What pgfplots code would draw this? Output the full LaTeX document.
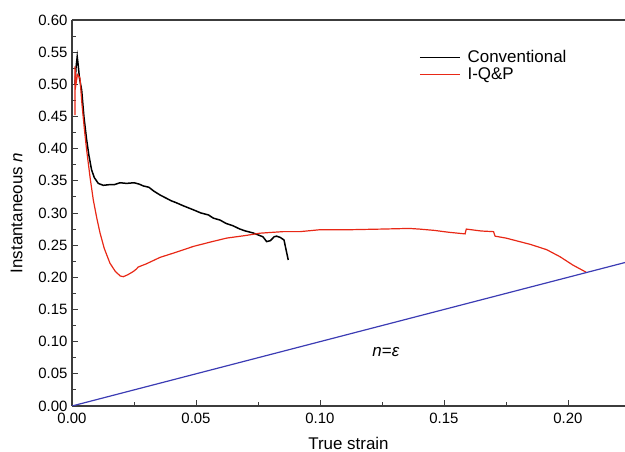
\documentclass[border=0pt]{standalone}
\usepackage{pgfplots}
\pgfplotsset{compat=1.18}
\usepackage{fontspec}
\setmainfont{Liberation Sans}
\definecolor{cred}{RGB}{232,40,22}
\definecolor{cblue}{RGB}{60,60,180}
\definecolor{axgray}{RGB}{60,60,60}
\begin{document}
\begin{tikzpicture}
\begin{axis}[
  name=ax,
  scale only axis,
  width=553bp, height=386bp,
  xmin=0, xmax=0.223, ymin=0, ymax=0.6,
  axis x line=box, axis y line=left,
  axis line style={line width=1.1bp, color=axgray, -},
  xtick={0,0.05,0.1,0.15,0.2},
  minor xtick={0.025,0.075,0.125,0.175},
  ytick={0,0.05,...,0.601},
  minor ytick={0.025,0.075,...,0.6},
  xtick pos=bottom, ytick pos=left,
  tick align=inside,
  major tick length=6bp, minor tick length=4bp,
  every tick/.style={line width=0.9bp, color=axgray},
  /pgf/number format/assume math mode=true,
  /pgf/number format/.cd, fixed, fixed zerofill, precision=2, /pgfplots/.cd,
  ticklabel style={font=\fontsize{15}{17}\selectfont},
  xticklabel style={yshift=-4bp},
  yticklabel style={xshift=-1bp},
  scaled ticks=false,
  xlabel={True strain},
  ylabel={Instantaneous \textit{n}},
  label style={font=\fontsize{17}{19}\selectfont},
  xlabel style={yshift=-6bp},
  ylabel style={yshift=9bp},
  legend style={at={(rel axis cs:0.622,0.932)}, anchor=north west, draw=none, fill=none,
    font=\fontsize{17}{19}\selectfont, row sep=0bp,
    /tikz/every odd column/.append style={column sep=5bp}},
  legend cell align=left,
  legend image code/.code={\draw[#1] (0bp,0bp) -- (40bp,0bp);},
]
\addplot[black, line width=1.5bp] coordinates {
(0.0012,0.50)(0.0016,0.525)(0.0021,0.543)(0.0025,0.53)(0.0030,0.51)(0.0039,0.491)
(0.0048,0.45)(0.0059,0.414)(0.0068,0.39)(0.0079,0.367)(0.0090,0.355)(0.0106,0.346)
(0.0126,0.343)(0.0150,0.344)(0.0170,0.344)(0.0194,0.347)(0.0220,0.346)(0.0250,0.347)
(0.0270,0.345)(0.0288,0.342)(0.0310,0.340)(0.0330,0.334)(0.0355,0.328)(0.0380,0.323)
(0.0400,0.319)(0.0420,0.316)(0.0450,0.311)(0.0489,0.305)(0.0520,0.300)(0.0550,0.297)
(0.0570,0.292)(0.0597,0.289)(0.0620,0.284)(0.0650,0.280)(0.0677,0.275)(0.0700,0.272)
(0.0730,0.269)(0.0750,0.266)(0.0770,0.263)(0.0785,0.2555)(0.0800,0.257)(0.0815,0.263)
(0.0825,0.264)(0.0840,0.262)(0.0855,0.258)(0.0862,0.245)(0.0872,0.227)
};
\addlegendentry{Conventional}
\addplot[cred, line width=1.2bp] coordinates {
(0.0012,0.452)(0.0012,0.528)(0.0016,0.50)(0.0022,0.515)(0.0032,0.510)(0.0040,0.47)
(0.0050,0.43)(0.0059,0.398)(0.0073,0.355)(0.0086,0.320)(0.0100,0.292)(0.0113,0.269)
(0.0130,0.245)(0.0153,0.222)(0.0175,0.209)(0.0195,0.202)(0.0207,0.201)(0.0225,0.204)
(0.0247,0.209)(0.0260,0.213)(0.0267,0.216)(0.0300,0.221)(0.0355,0.231)(0.0420,0.239)
(0.0489,0.248)(0.0560,0.255)(0.0624,0.261)(0.0700,0.265)(0.0758,0.2686)(0.0850,0.271)
(0.0919,0.271)(0.1000,0.274)(0.1120,0.274)(0.1250,0.275)(0.1360,0.276)(0.1400,0.275)
(0.1460,0.273)(0.1520,0.270)(0.1585,0.2675)(0.1590,0.275)(0.1650,0.272)(0.1700,0.271)
(0.1706,0.264)(0.1750,0.261)(0.1790,0.257)(0.1850,0.251)(0.1914,0.243)(0.1968,0.232)
(0.2020,0.219)(0.2073,0.208)
};
\addlegendentry{I-Q\&P}
\addplot[cblue, line width=1.2bp, forget plot] coordinates {(0,0)(0.223,0.223)};
\node[font=\fontsize{17}{19}\selectfont] at (axis cs:0.1266,0.0845) {\textit{n}=\textit{ε}};
\end{axis}
\pgfresetboundingbox
\path ([shift={(-72bp,-46bp)}]ax.south west) rectangle ([shift={(0bp,20bp)}]ax.north east);
\end{tikzpicture}
\end{document}
